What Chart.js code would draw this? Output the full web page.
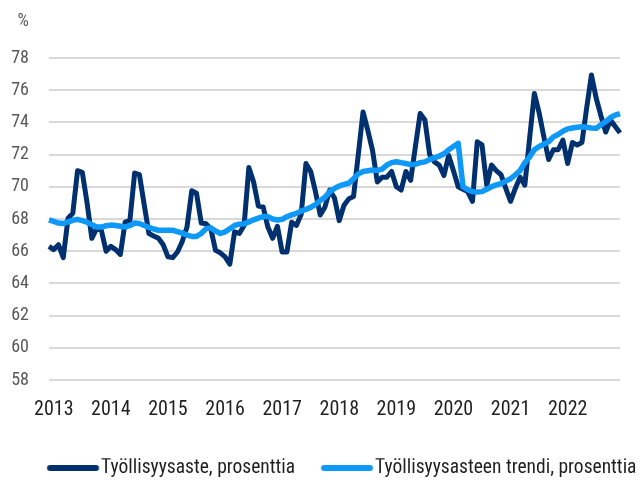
<!DOCTYPE html>
<html>
<head>
<meta charset="utf-8">
<script src="https://cdn.jsdelivr.net/npm/chart.js@4.4.1/dist/chart.umd.min.js"></script>
<style>
  html, body { margin: 0; padding: 0; background: #ffffff; }
  #wrap { width: 643px; height: 482px; }
</style>
</head>
<body>
<div id="wrap"><canvas id="c" width="643" height="482"></canvas></div>
<script>
// ---- data ----
const years = ['2013','2014','2015','2016','2017','2018','2019','2020','2021','2022'];
const monthCodes = ['01','02','03','04','05','06','07','08','09','10','11','12'];
const categories = ['2012-12'];
years.forEach(y => monthCodes.forEach(m => categories.push(y + '-' + m)));

const seriesNames = ['Työllisyysaste, prosenttia', 'Työllisyysasteen trendi, prosenttia'];

const employmentRate = [
  66.3, 66.1, 66.4, 65.6, 68.05, 68.35, 71.0, 70.9, 69.0, 66.8, 67.4, 67.3,
  66.0, 66.3, 66.1, 65.8, 67.8, 67.9, 70.85, 70.75, 68.9, 67.1, 66.95, 66.8,
  66.4, 65.65, 65.6, 65.95, 66.6, 67.5, 69.75, 69.6, 67.75, 67.7, 67.4, 66.05,
  65.9, 65.65, 65.2, 67.2, 67.1, 67.6, 71.2, 70.3, 68.8, 68.75, 67.5, 66.8,
  67.55, 65.95, 65.95, 67.8, 67.6, 68.3, 71.45, 70.95, 69.7, 68.25, 68.75, 69.8,
  69.3, 67.9, 68.85, 69.25, 69.4, 72.0, 74.65, 73.5, 72.25, 70.3, 70.6, 70.6,
  70.95, 70.0, 69.8, 70.95, 70.4, 72.5, 74.55, 74.15, 72.0, 71.55, 71.35, 70.7,
  71.95, 71.0, 70.0, 69.85, 69.7, 69.1, 72.8, 72.6, 70.1, 71.35, 71.0, 70.75,
  69.9, 69.1, 69.9, 70.6, 70.1, 73.0, 75.8, 74.6, 73.1, 71.7, 72.3, 72.3,
  72.9, 71.45, 72.75, 72.6, 72.75, 74.9, 76.95, 75.5, 74.4, 73.4, 74.15, 73.75,
  73.35
];

const employmentTrend = [
  67.95, 67.85, 67.75, 67.72, 67.82, 67.92, 67.98, 67.9, 67.8, 67.65, 67.5, 67.5,
  67.58, 67.62, 67.6, 67.55, 67.5, 67.6, 67.75, 67.72, 67.6, 67.48, 67.38, 67.3,
  67.3, 67.3, 67.3, 67.22, 67.12, 67.0, 66.92, 66.92, 67.1, 67.4, 67.45, 67.25,
  67.1, 67.2, 67.4, 67.6, 67.68, 67.7, 67.82, 67.95, 68.05, 68.15, 68.15, 68.0,
  67.94, 67.98, 68.15, 68.25, 68.35, 68.5, 68.6, 68.72, 68.9, 69.15, 69.35, 69.7,
  69.9, 70.05, 70.15, 70.22, 70.5, 70.8, 70.95, 71.0, 71.04, 71.02, 71.1, 71.35,
  71.5, 71.56, 71.5, 71.45, 71.38, 71.4, 71.5, 71.55, 71.7, 71.8, 71.9, 72.05,
  72.3, 72.5, 72.7, 70.0, 69.82, 69.7, 69.68, 69.7, 69.85, 70.0, 70.12, 70.2,
  70.35, 70.5, 70.75, 71.0, 71.5, 71.85, 72.3, 72.5, 72.65, 72.8, 73.1, 73.25,
  73.45, 73.6, 73.65, 73.7, 73.73, 73.7, 73.65, 73.63, 73.85, 74.05, 74.3, 74.45,
  74.55
];

const yTicks = [58, 60, 62, 64, 66, 68, 70, 72, 74, 76, 78];
const yUnit = '%';

// ---- styling ----
const FONT = '"Roboto Condensed", "DejaVu Sans Condensed", sans-serif';
const NAVY = '#00306E';
const LIGHT = '#0E98F7';
const LEGEND_FS = 19.5;

Chart.defaults.font.family = FONT;

// legend geometry: first label text starts at x=101, second at x=375
const mc = document.createElement('canvas').getContext('2d');
mc.font = LEGEND_FS + 'px ' + FONT;
const w1 = mc.measureText(seriesNames[0]).width;
const PSW = 274 - LEGEND_FS / 2 - w1;          // legend "box" width used for spacing
const LEFT_PAD = 101 - PSW - LEGEND_FS / 2;    // legend row starts here

// swatch drawn 54px..2px before each label text
function makeSwatch(color) {
  const relStart = PSW / 2 + LEGEND_FS / 2 - 54;
  const relEnd = PSW / 2 + LEGEND_FS / 2 - 2;
  const half = Math.ceil(Math.max(Math.abs(relStart), Math.abs(relEnd))) + 1;
  const cv = document.createElement('canvas');
  cv.width = half * 2;
  cv.height = 8;
  const g = cv.getContext('2d');
  g.strokeStyle = color;
  g.lineWidth = 6;
  g.lineCap = 'round';
  g.beginPath();
  g.moveTo(half + relStart + 3, 4);
  g.lineTo(half + relEnd - 3, 4);
  g.stroke();
  return cv;
}

const unitLabel = {
  id: 'unitLabel',
  afterLayout(chart) {
    // let the y tick labels extend left of the (narrow) axis box without clipping
    chart.scales.y.left = 0;
  },
  afterDraw(chart) {
    const ctx = chart.ctx;
    ctx.save();
    ctx.font = '18px ' + FONT;
    ctx.fillStyle = '#595959';
    ctx.textAlign = 'right';
    ctx.textBaseline = 'middle';
    ctx.fillText(yUnit, 29, 21);
    ctx.restore();
  }
};

new Chart(document.getElementById('c'), {
  type: 'line',
  data: {
    labels: categories,
    datasets: [
      {
        label: seriesNames[0],
        data: employmentRate,
        borderColor: NAVY,
        backgroundColor: NAVY,
        borderWidth: 5,
        pointRadius: 0,
        pointHoverRadius: 0,
        pointStyle: makeSwatch(NAVY),
        tension: 0,
        borderJoinStyle: 'round',
        order: 1
      },
      {
        label: seriesNames[1],
        data: employmentTrend,
        borderColor: LIGHT,
        backgroundColor: LIGHT,
        borderWidth: 5.5,
        pointRadius: 0,
        pointHoverRadius: 0,
        pointStyle: makeSwatch(LIGHT),
        tension: 0,
        borderJoinStyle: 'round',
        order: 0
      }
    ]
  },
  options: {
    responsive: false,
    animation: false,
    devicePixelRatio: 1,
    layout: { padding: { left: LEFT_PAD, right: -10, top: 58, bottom: -5.75 } },
    plugins: {
      legend: {
        position: 'bottom',
        align: 'start',
        labels: {
          usePointStyle: true,
          pointStyleWidth: PSW,
          boxHeight: 6,
          padding: 0,
          color: '#1F1F1F',
          font: { size: LEGEND_FS, family: FONT },
          sort: (a, b) => a.datasetIndex - b.datasetIndex
        }
      },
      tooltip: { enabled: false }
    },
    scales: {
      x: {
        type: 'category',
        offset: false,
        grid: { display: false, drawTicks: false },
        border: { display: false },
        ticks: {
          autoSkip: false,
          maxRotation: 0,
          minRotation: 0,
          padding: 18,
          color: '#1F1F1F',
          font: { size: 20, family: FONT },
          callback: function (value, index) {
            const c = categories[index];
            return c.endsWith('-01') ? c.slice(0, 4) : null;
          }
        },
        afterFit: s => { s.height = 78.25; }
      },
      y: {
        position: 'left',
        min: yTicks[0],
        max: yTicks[yTicks.length - 1],
        grid: { color: '#D9D9D9', lineWidth: 2, drawTicks: false },
        border: { display: false },
        ticks: {
          stepSize: 2,
          padding: 20,
          color: '#595959',
          font: { size: 18, family: FONT }
        },
        afterBuildTicks: s => { s.ticks = yTicks.map(v => ({ value: v })); },
        afterFit: s => { s.width = 49 - LEFT_PAD; }
      },
      yr: {
        position: 'right',
        display: true,
        grid: { display: false, drawTicks: false },
        border: { display: false },
        ticks: { display: false },
        afterFit: s => { s.width = 33; }
      }
    }
  },
  plugins: [unitLabel]
});
</script>
</body>
</html>
